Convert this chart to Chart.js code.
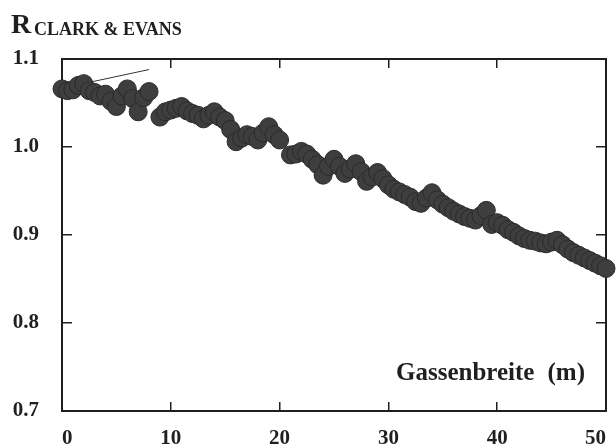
<!DOCTYPE html>
<html>
<head>
<meta charset="utf-8">
<script src="https://cdn.jsdelivr.net/npm/chart.js@4.4.0/dist/chart.umd.min.js"></script>
<style>
  html, body { margin: 0; padding: 0; background: #fff; }
  #wrap { width: 616px; height: 448px; }
</style>
</head>
<body>
<div id="wrap"><canvas id="chart" width="616" height="448"></canvas></div>
<script>
// Gassenbreite (m) and the Clark & Evans index
const gassenbreite = [
  0, 0.5, 1, 1.5, 2, 2.5, 3, 3.5, 4, 4.5, 5, 5.5, 6, 6.5, 7, 7.5, 8,
  9, 9.5, 10, 10.5, 11, 11.5, 12, 12.5, 13, 13.5, 14, 14.5, 15, 15.5,
  16, 16.5, 17, 17.5, 18, 18.5, 19, 19.5, 20,
  21, 21.5, 22, 22.5, 23, 23.5, 24, 24.5, 25, 25.5, 26, 26.5, 27, 27.5, 28, 28.5, 29, 29.5,
  30, 30.5, 31, 31.5, 32, 32.5, 33, 33.5, 34, 34.5, 35, 35.5, 36, 36.5, 37, 37.5, 38, 38.5, 39, 39.5,
  40, 40.5, 41, 41.5, 42, 42.5, 43, 43.5, 44, 44.5, 45, 45.5, 46, 46.5, 47, 47.5, 48, 48.5, 49, 49.5, 50
];
const rClarkEvans = [
  1.066, 1.064, 1.065, 1.070, 1.072, 1.064, 1.062, 1.058, 1.060, 1.052, 1.046, 1.058, 1.066, 1.055, 1.040, 1.056, 1.063,
  1.034, 1.040, 1.042, 1.044, 1.046, 1.041, 1.038, 1.036, 1.032, 1.036, 1.040, 1.034, 1.030, 1.020,
  1.006, 1.010, 1.014, 1.012, 1.008, 1.016, 1.023, 1.014, 1.008,
  0.991, 0.992, 0.995, 0.992, 0.986, 0.980, 0.968, 0.978, 0.986, 0.978, 0.970, 0.975, 0.981, 0.972, 0.961, 0.966, 0.971, 0.964,
  0.957, 0.952, 0.949, 0.946, 0.943, 0.938, 0.936, 0.942, 0.948, 0.940, 0.935, 0.931, 0.927, 0.924, 0.921, 0.919, 0.917, 0.922, 0.928, 0.912,
  0.914, 0.911, 0.906, 0.903, 0.899, 0.896, 0.894, 0.893, 0.891, 0.890, 0.892, 0.894, 0.889, 0.884, 0.880, 0.877, 0.874, 0.871, 0.868, 0.865, 0.862
];
// thin stray stroke near the top left of the scan
const leaderX = [2.7, 8.0];
const leaderY = [1.074, 1.088];

const xTickValues = [0, 10, 20, 30, 40, 50];
const yTickValues = [0.7, 0.8, 0.9, 1.0, 1.1];

const ink = '#1f1f1f';
const serif = '"Liberation Serif", "Times New Roman", serif';

function setTicks(values) {
  return function (scale) {
    scale.ticks = values.map(function (v) { return { value: v }; });
  };
}

// fixed axis size, and no extra label padding pushed into the layout
function fixSize(w, h) {
  return function (s) {
    if (w !== null) s.width = w;
    if (h !== null) s.height = h;
    s.paddingTop = 0;
    s.paddingBottom = 0;
    s.paddingLeft = 0;
    s.paddingRight = 0;
  };
}

// title and axis caption drawn as text on the canvas
const labelsPlugin = {
  id: 'labels',
  afterDraw: function (chart) {
    const ctx = chart.ctx;
    const area = chart.chartArea;
    ctx.save();
    ctx.fillStyle = ink;
    ctx.textBaseline = 'alphabetic';
    ctx.textAlign = 'left';
    ctx.font = 'bold 28px ' + serif;
    ctx.fillText('R', 11, 33);
    ctx.font = 'bold 18px ' + serif;
    ctx.fillText('CLARK & EVANS', 34, 35);

    ctx.font = 'bold 25px ' + serif;
    ctx.fillText('Gassenbreite', area.left + 334, area.bottom - 31);
    ctx.textAlign = 'right';
    ctx.fillText('(m)', area.right - 21, area.bottom - 31);
    ctx.restore();
  }
};

const points = gassenbreite.map(function (x, i) { return { x: x, y: rClarkEvans[i] }; });
const leader = leaderX.map(function (x, i) { return { x: x, y: leaderY[i] }; });

const ctx = document.getElementById('chart').getContext('2d');
const chart = new Chart(ctx, {
  type: 'scatter',
  data: {
    datasets: [{
      data: points,
      pointRadius: 9,
      pointBorderWidth: 1,
      backgroundColor: '#3e3e3e',
      borderColor: '#2a2a2a',
      clip: false
    }, {
      data: leader,
      showLine: true,
      pointRadius: 0,
      borderColor: '#333',
      borderWidth: 1
    }]
  },
  options: {
    responsive: false,
    animation: false,
    devicePixelRatio: 1,
    layout: { padding: { top: 59, right: 3, bottom: 0, left: 0 } },
    plugins: {
      legend: { display: false },
      tooltip: { enabled: false }
    },
    scales: {
      x: {
        type: 'linear',
        position: 'bottom',
        min: 0,
        max: 50,
        afterBuildTicks: setTicks(xTickValues),
        afterFit: fixSize(null, 37),
        border: { display: true, color: ink, width: 2 },
        grid: { drawOnChartArea: false, drawTicks: true, tickLength: -9, color: ink, lineWidth: 1.5 },
        ticks: {
          align: 'inner',
          padding: 24,
          maxRotation: 0,
          autoSkip: false,
          color: ink,
          font: { family: serif, size: 21, weight: 'bold' },
          callback: function (v) { return String(v); }
        }
      },
      x2: {
        type: 'linear',
        position: 'top',
        min: 0,
        max: 50,
        afterBuildTicks: setTicks(xTickValues),
        afterFit: fixSize(null, 0),
        border: { display: true, color: ink, width: 2 },
        grid: { drawOnChartArea: false, drawTicks: true, tickLength: -9, color: ink, lineWidth: 1.5 },
        ticks: { display: false }
      },
      y: {
        type: 'linear',
        position: 'left',
        min: 0.7,
        max: 1.1,
        afterBuildTicks: setTicks(yTickValues),
        afterFit: fixSize(62, null),
        border: { display: true, color: ink, width: 2 },
        grid: { drawOnChartArea: false, drawTicks: true, tickLength: -10, color: ink, lineWidth: 1.5 },
        ticks: {
          padding: 33,
          color: ink,
          font: { family: serif, size: 21, weight: 'bold' },
          callback: function (v) { return Number(v).toFixed(1); }
        }
      },
      y2: {
        type: 'linear',
        position: 'right',
        min: 0.7,
        max: 1.1,
        afterBuildTicks: setTicks(yTickValues),
        afterFit: fixSize(0, null),
        border: { display: true, color: ink, width: 2 },
        grid: { drawOnChartArea: false, drawTicks: true, tickLength: -10, color: ink, lineWidth: 1.5 },
        ticks: { display: false }
      }
    }
  },
  plugins: [labelsPlugin]
});
</script>
</body>
</html>
